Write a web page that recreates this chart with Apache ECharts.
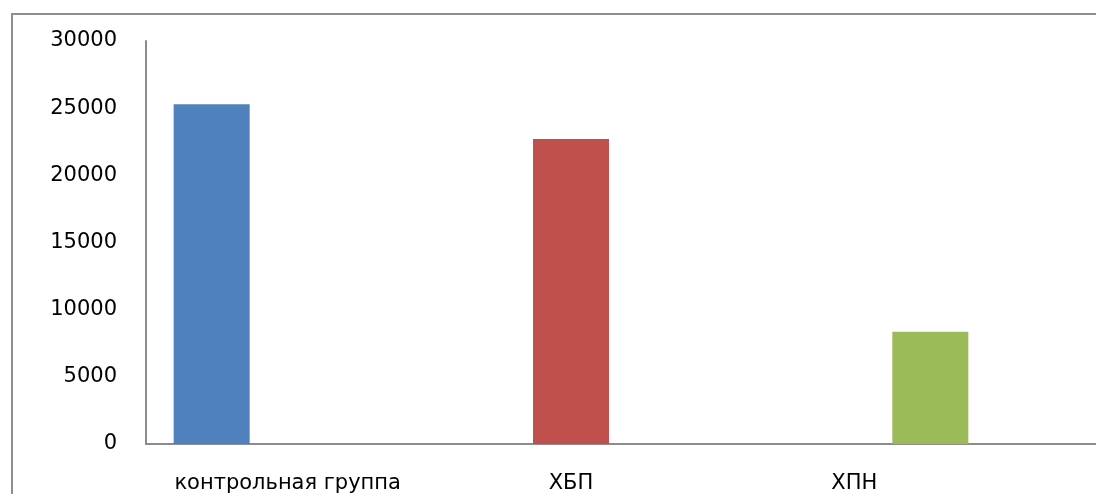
<!DOCTYPE html>
<html>
<head>
<meta charset="utf-8">
<script src="https://cdn.jsdelivr.net/npm/echarts@6/dist/echarts.min.js"></script>
<style>
  html, body { margin: 0; padding: 0; background: #ffffff; }
  #wrap { position: relative; width: 1096px; height: 494px; overflow: hidden; }
  #frame { position: absolute; left: 11px; top: 13px; right: -10px; bottom: -10px;
           border: 2px solid #8e8e8e; pointer-events: none; }
  #chart { position: absolute; left: 0; top: 0; width: 1096px; height: 494px; }
</style>
</head>
<body>
<div id="wrap">
  <div id="chart"></div>
  <div id="frame"></div>
</div>
<script>
// Groups and their values
const categories = ['контрольная группа', 'ХБП', 'ХПН'];
const controlValues = [25300, '-', '-'];
const ckdValues = ['-', 22700, '-'];
const crfValues = ['-', '-', 8350];
const yTicks = [0, 5000, 10000, 15000, 20000, 25000, 30000];

const seriesColors = ['#4F81BD', '#C0504D', '#9BBB59'];
const fontFamily = '"DejaVu Sans", Verdana, sans-serif';
const axisGray = '#8c8c8c';

const chart = echarts.init(document.getElementById('chart'), null, { renderer: 'canvas' });

const plotTop = 41, plotBottom = 50, plotLeft = 146;

chart.setOption({
  animation: false,
  backgroundColor: '#ffffff',
  grid: [
    // plot area for the bars
    { left: plotLeft, top: plotTop, bottom: plotBottom, width: 850 },
    // full-width frame carrying the axis lines
    { left: plotLeft, top: plotTop, bottom: plotBottom, right: 0 }
  ],
  xAxis: [
    {
      gridIndex: 0,
      type: 'category',
      data: categories,
      axisLine: { show: false },
      axisTick: { show: false },
      axisLabel: {
        interval: 0,
        hideOverlap: false,
        margin: 29,
        color: '#000000',
        fontFamily: fontFamily,
        fontSize: 21
      }
    },
    {
      gridIndex: 1,
      type: 'category',
      data: [''],
      axisLine: { show: true, lineStyle: { color: axisGray, width: 2 } },
      axisTick: { show: false },
      axisLabel: { show: false }
    }
  ],
  yAxis: [
    {
      gridIndex: 0,
      type: 'value',
      min: yTicks[0],
      max: yTicks[yTicks.length - 1],
      interval: yTicks[1] - yTicks[0],
      show: false,
      splitLine: { show: false }
    },
    {
      gridIndex: 1,
      type: 'value',
      min: yTicks[0],
      max: yTicks[yTicks.length - 1],
      interval: yTicks[1] - yTicks[0],
      axisLine: { show: true, lineStyle: { color: axisGray, width: 2 } },
      axisTick: { show: false },
      splitLine: { show: false },
      axisLabel: {
        margin: 29,
        color: '#000000',
        fontFamily: fontFamily,
        fontSize: 21,
        formatter: function (v) { return String(v); }
      }
    }
  ],
  series: [
    { name: 'контрольная группа', type: 'bar', xAxisIndex: 0, yAxisIndex: 0,
      data: controlValues, barWidth: 76, barGap: '0%',
      itemStyle: { color: seriesColors[0] } },
    { name: 'ХБП', type: 'bar', xAxisIndex: 0, yAxisIndex: 0,
      data: ckdValues, barWidth: 76, barGap: '0%',
      itemStyle: { color: seriesColors[1] } },
    { name: 'ХПН', type: 'bar', xAxisIndex: 0, yAxisIndex: 0,
      data: crfValues, barWidth: 76, barGap: '0%',
      itemStyle: { color: seriesColors[2] } }
  ]
});
</script>
</body>
</html>
